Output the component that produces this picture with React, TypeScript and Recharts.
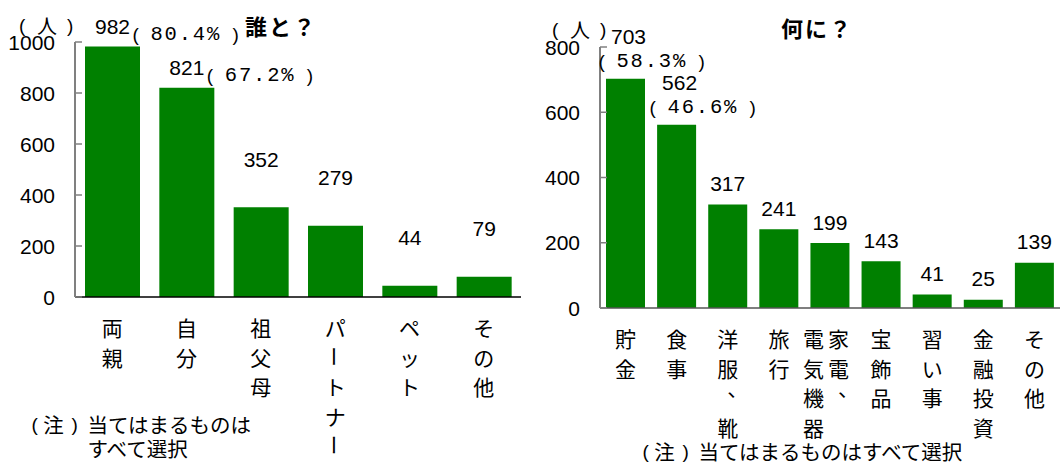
import { BarChart, Bar, XAxis, YAxis, LabelList } from 'recharts'

// 誰と？
const whoCategories = ['両親', '自分', '祖父母', 'パートナー', 'ペット', 'その他']
const whoCounts = [982, 821, 352, 279, 44, 79]
const whoShares = ['80.4', '67.2', '', '', '', '']
const whoTicks = [0, 200, 400, 600, 800, 1000]

// 何に？ (改行 = 縦書きの次の列)
const whatCategories = ['貯金', '食事', '洋服、靴', '旅行', '家電、\n電気機器', '宝飾品', '習い事', '金融投資', 'その他']
const whatCounts = [703, 562, 317, 241, 199, 143, 41, 25, 139]
const whatShares = ['58.3', '46.6', '', '', '', '', '', '', '']
const whatTicks = [0, 200, 400, 600, 800]

const whoData = whoCategories.map((name, i) => ({ name, count: whoCounts[i] }))
const whatData = whatCategories.map((name, i) => ({ name, count: whatCounts[i] }))

const JP = "'Noto Sans CJK JP', sans-serif"
const NUM = "'Liberation Sans', Arial, sans-serif"
const MONO = "'Liberation Mono', monospace"
const GREEN = '#008000'
const AXIS_GRAY = '#808080'

function YTick(props: any) {
  const { x, y, payload } = props
  return (
    <g>
      <line x1={x + 20} x2={x + 27} y1={y} y2={y} stroke={AXIS_GRAY} strokeWidth={1.5} />
      <text x={x} y={y} textAnchor="end" dominantBaseline="central" fontSize={21} fontFamily={NUM} fill="#000">
        {payload.value}
      </text>
    </g>
  )
}

function VChar({ ch, x, y }: { ch: string; x: number; y: number }) {
  const common = { textAnchor: 'middle' as const, dominantBaseline: 'central' as const, fontSize: 21, fontFamily: JP, fill: '#000' }
  if (ch === 'ー') {
    return <text x={x} y={y} transform={`rotate(90 ${x} ${y})`} {...common}>{ch}</text>
  }
  if (ch === '、') {
    return <text x={x + 10} y={y - 10} {...common}>{ch}</text>
  }
  return <text x={x} y={y} {...common}>{ch}</text>
}

function XTick(props: any) {
  const { x, y, payload } = props
  const cols = String(payload.value).split('\n')
  const shift = cols.length > 1 ? -4 : 0
  return (
    <g>
      {cols.map((col, ci) => {
        const cx = x + shift + ((cols.length - 1) / 2 - ci) * 25
        return Array.from(col).map((ch, i) => (
          <VChar key={`${ci}-${i}`} ch={ch} x={cx} y={y + 30 + i * 29.5} />
        ))
      })}
    </g>
  )
}

// 括弧は間をあけた全角風に描く
function Paren({ x, y, ch }: { x: number; y: number; ch: string }) {
  return (
    <text x={x} y={y} dominantBaseline="central" fontSize={19} fontFamily={NUM} fill="#000">{ch}</text>
  )
}

function Share({ left, y, share }: { left: number; y: number; share: string }) {
  return (
    <g>
      <Paren x={left - 1} y={y} ch="(" />
      <text x={left + 17} y={y} dominantBaseline="central" fontSize={20.5} fontFamily={MONO} letterSpacing={1.8} fill="#000">
        {`${share}%`}
      </text>
      <Paren x={left + 99} y={y} ch=")" />
    </g>
  )
}

// 値ラベル。割合つきは左グラフ=横並び、右グラフ=2段
function makeLabel(shares: string[], lift: number, stacked: boolean) {
  return (props: any) => {
    const { x, y, width, value, index } = props
    const cx = x + width / 2
    const share = shares[index]
    const num = { textAnchor: 'middle' as const, dominantBaseline: 'central' as const, fontSize: 21, fontFamily: NUM, fill: '#000' }
    if (!share) {
      return <text x={cx} y={y - lift} {...num}>{value}</text>
    }
    if (stacked) {
      return (
        <g>
          <text x={cx + 3} y={y - 42} {...num}>{value}</text>
          <Share left={cx - 26} y={y - 17} share={share} />
        </g>
      )
    }
    return (
      <g>
        <text x={cx} y={y - 20} {...num}>{value}</text>
        <Share left={cx + 21} y={y - 12} share={share} />
      </g>
    )
  }
}

function Note({ x, y, text }: { x: number; y: number; text: string }) {
  return (
    <g>
      <Paren x={x - 56} y={y} ch="(" />
      <text x={x - 34} y={y} dominantBaseline="central" textAnchor="middle" fontSize={20.5} fontFamily={JP}>注</text>
      <Paren x={x - 16} y={y} ch=")" />
      <text x={x} y={y} dominantBaseline="central" fontSize={20.5} fontFamily={JP}>{text}</text>
    </g>
  )
}

function Unit({ x, y }: { x: number; y: number }) {
  return (
    <g>
      <Paren x={x - 1} y={y} ch="(" />
      <text x={x + 27} y={y} dominantBaseline="central" textAnchor="middle" fontSize={20} fontFamily={JP}>人</text>
      <Paren x={x + 47} y={y} ch=")" />
    </g>
  )
}

export default function App() {
  return (
    <div style={{ position: 'absolute', left: 0, top: 0, width: 1060, height: 464, background: '#fff', fontFamily: JP }}>
      <svg width={1060} height={464} style={{ position: 'absolute', left: 0, top: 0 }}>
        <Unit x={20} y={25} />
        <text x={245} y={25} fontSize={22} fontWeight={700} letterSpacing={2} dominantBaseline="central" fontFamily={JP}>誰と？</text>
        <Note x={87.5} y={424} text="当てはまるものは" />
        <text x={87.5} y={448} fontSize={20.5} dominantBaseline="central" fontFamily={JP}>すべて選択</text>

        <Unit x={553} y={29} />
        <text x={781} y={27} fontSize={22} fontWeight={700} letterSpacing={2} dominantBaseline="central" fontFamily={JP}>何に？</text>
        <Note x={698.5} y={451} text="当てはまるものはすべて選択" />
      </svg>

      <div style={{ position: 'absolute', left: 0, top: 0 }}>
        <BarChart width={530} height={464} data={whoData} margin={{ top: 42, right: 9, bottom: 0, left: 0 }} style={{ overflow: 'visible' }}>
          <XAxis
            dataKey="name"
            height={167}
            interval={0}
            tickLine={false}
            tickSize={0}
            tickMargin={0}
            axisLine={{ stroke: '#000', strokeWidth: 1.5 }}
            tick={<XTick />}
          />
          <YAxis
            width={75}
            domain={[0, 1000]}
            ticks={whoTicks}
            tickLine={false}
            tickSize={0}
            tickMargin={20}
            axisLine={{ stroke: AXIS_GRAY, strokeWidth: 2 }}
            tick={<YTick />}
          />
          <Bar dataKey="count" fill={GREEN} barSize={55} isAnimationActive={false}>
            <LabelList dataKey="count" content={makeLabel(whoShares, 48, false)} />
          </Bar>
        </BarChart>
      </div>

      <div style={{ position: 'absolute', left: 530, top: 0 }}>
        <BarChart width={530} height={464} data={whatData} margin={{ top: 47, right: 0, bottom: 0, left: 0 }} style={{ overflow: 'visible' }}>
          <XAxis
            dataKey="name"
            height={156}
            interval={0}
            tickLine={false}
            tickSize={0}
            tickMargin={0}
            axisLine={{ stroke: '#555', strokeWidth: 1.5 }}
            tick={<XTick />}
          />
          <YAxis
            width={70}
            domain={[0, 800]}
            ticks={whatTicks}
            tickLine={false}
            tickSize={0}
            tickMargin={20}
            axisLine={{ stroke: AXIS_GRAY, strokeWidth: 2 }}
            tick={<YTick />}
          />
          <Bar dataKey="count" fill={GREEN} barSize={39} isAnimationActive={false}>
            <LabelList dataKey="count" content={makeLabel(whatShares, 21, true)} />
          </Bar>
        </BarChart>
      </div>
    </div>
  )
}
